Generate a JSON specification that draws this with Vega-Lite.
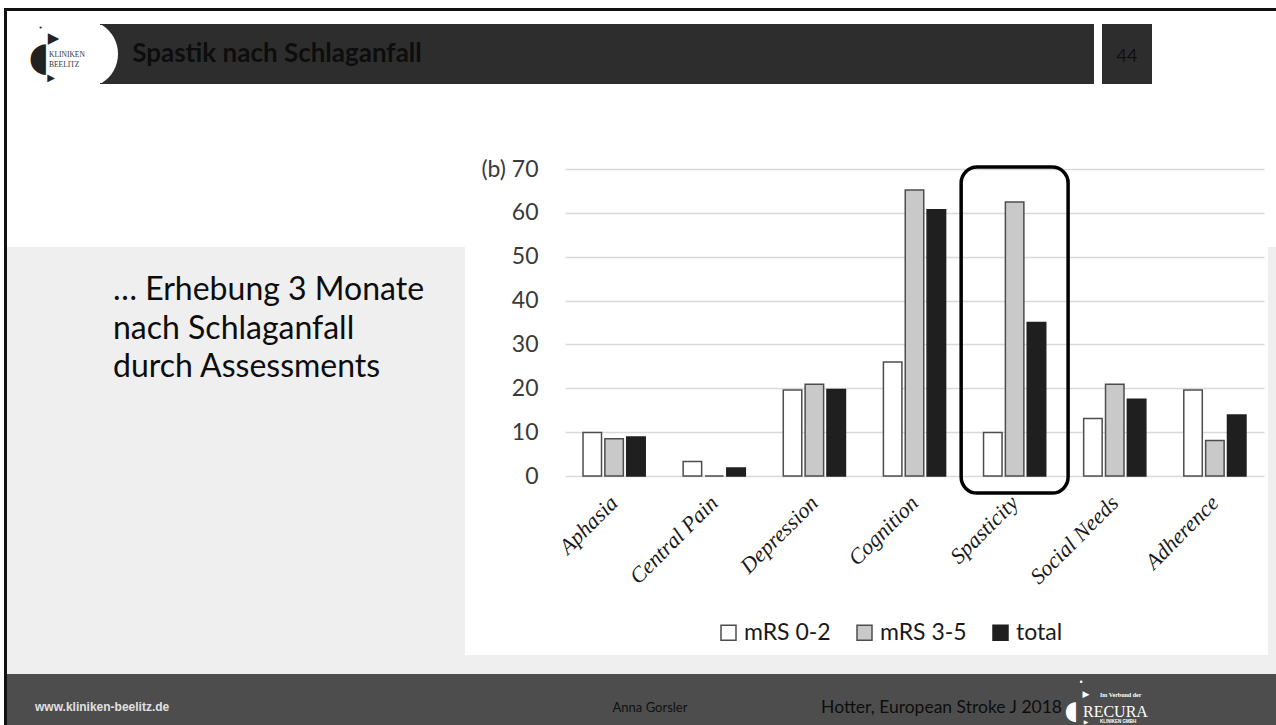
{
  "$schema": "https://vega.github.io/schema/vega-lite/v6.json",
  "background": "#ffffff",
  "padding": {"left": 4, "top": 8, "right": 0, "bottom": 0},
  "config": {"view": {"stroke": null}},
  "datasets": {
    "one": [{}],
    "bars": [
      {"category": "Aphasia", "series": "mRS 0-2", "value": 9.9},
      {"category": "Aphasia", "series": "mRS 3-5", "value": 8.5},
      {"category": "Aphasia", "series": "total", "value": 8.9},
      {"category": "Central Pain", "series": "mRS 0-2", "value": 3.3},
      {"category": "Central Pain", "series": "mRS 3-5", "value": 0},
      {"category": "Central Pain", "series": "total", "value": 1.8},
      {"category": "Depression", "series": "mRS 0-2", "value": 19.6},
      {"category": "Depression", "series": "mRS 3-5", "value": 20.9},
      {"category": "Depression", "series": "total", "value": 19.7},
      {"category": "Cognition", "series": "mRS 0-2", "value": 26.0},
      {"category": "Cognition", "series": "mRS 3-5", "value": 65.2},
      {"category": "Cognition", "series": "total", "value": 60.7},
      {"category": "Spasticity", "series": "mRS 0-2", "value": 9.9},
      {"category": "Spasticity", "series": "mRS 3-5", "value": 62.5},
      {"category": "Spasticity", "series": "total", "value": 35.0},
      {"category": "Social Needs", "series": "mRS 0-2", "value": 13.1},
      {"category": "Social Needs", "series": "mRS 3-5", "value": 20.9},
      {"category": "Social Needs", "series": "total", "value": 17.5},
      {"category": "Adherence", "series": "mRS 0-2", "value": 19.6},
      {"category": "Adherence", "series": "mRS 3-5", "value": 8.1},
      {"category": "Adherence", "series": "total", "value": 13.9}
    ],
    "highlight": [{"category": "Spasticity"}]
  },
  "spacing": 0,
  "hconcat": [
    {"width": 3, "height": 717, "data": {"name": "one"}, "view": {"fill": "#111111"}, "mark": {"type": "text", "text": "", "fontSize": 1, "baseline": "top", "align": "left"}},
    {
      "spacing": 0,
      "vconcat": [
        {"width": 1269, "height": 3, "data": {"name": "one"}, "view": {"fill": "#111111"}, "mark": {"type": "text", "text": "", "fontSize": 1, "baseline": "top", "align": "left"}},
        {"width": 1269, "height": 13, "data": {"name": "one"}, "mark": {"type": "text", "text": "", "fontSize": 1, "baseline": "top", "align": "left"}},
        {
          "spacing": 0,
          "bounds": "flush",
          "hconcat": [
            {
              "width": 93, "height": 60, "data": {"name": "one"},
              "layer": [
                {"mark": {"type": "text", "text": "•", "font": "DejaVu Sans", "fontSize": 7, "fill": "#222222", "align": "center", "baseline": "middle", "dx": -13, "dy": -26}},
                {"mark": {"type": "text", "text": "▶", "font": "DejaVu Sans", "fontSize": 15, "fill": "#222222", "align": "center", "baseline": "middle", "dx": 0, "dy": -16}},
                {"mark": {"type": "text", "text": "◖", "font": "DejaVu Sans", "fontSize": 40, "fill": "#222222", "align": "center", "baseline": "middle", "dx": -14.5, "dy": 4}},
                {"mark": {"type": "text", "text": "▶", "font": "DejaVu Sans", "fontSize": 10, "fill": "#222222", "align": "center", "baseline": "middle", "dx": -2.5, "dy": 24}},
                {"mark": {"type": "text", "text": "KLINIKEN", "font": "Liberation Serif", "fontSize": 7.5, "fill": "#333333", "align": "left", "baseline": "middle", "dx": -4.5, "dy": 1}},
                {"mark": {"type": "text", "text": "BEELITZ", "font": "Liberation Serif", "fontSize": 7.5, "fill": "#333333", "align": "left", "baseline": "middle", "dx": -4.5, "dy": 11}}
              ]
            },
            {
              "width": 354, "height": 60, "data": {"name": "one"}, "view": {"fill": "#2d2d2d"},
              "layer": [
                {"mark": {"type": "point", "shape": "M -5.206 -0.85 L -5.149 -0.85 A 1 1 0 0 1 -5.149 0.85 L -5.206 0.85 Z", "size": 4624, "filled": true, "fill": "#ffffff", "opacity": 1, "strokeWidth": 0}},
                {"mark": {"type": "text", "text": "Spastik nach Schlaganfall", "font": "Lato", "fontWeight": "bold", "fontSize": 26, "fill": "#0d0d0d", "align": "center", "baseline": "alphabetic", "dy": 8}}
              ]
            },
            {"width": 640, "height": 60, "data": {"name": "one"}, "view": {"fill": "#2d2d2d"}, "mark": {"type": "text", "text": "", "fontSize": 1, "baseline": "top", "align": "left"}},
            {"width": 8, "height": 60, "data": {"name": "one"}, "mark": {"type": "text", "text": "", "fontSize": 1, "baseline": "top", "align": "left"}},
            {"width": 50, "height": 60, "data": {"name": "one"}, "view": {"fill": "#2d2d2d"}, "mark": {"type": "text", "text": "44", "font": "Lato", "fontSize": 18, "fill": "#111111", "align": "center", "baseline": "alphabetic", "dy": 8}},
            {"width": 124, "height": 60, "data": {"name": "one"}, "mark": {"type": "text", "text": "", "fontSize": 1, "baseline": "top", "align": "left"}}
          ]
        },
        {
          "spacing": 0,
          "hconcat": [
            {
              "spacing": 0,
              "bounds": "flush",
              "vconcat": [
                {"width": 458, "height": 163, "data": {"name": "one"}, "mark": {"type": "text", "text": "", "fontSize": 1, "baseline": "top", "align": "left"}},
                {"width": 458, "height": 427, "data": {"name": "one"}, "view": {"fill": "#efefef"},
                 "mark": {"type": "text", "text": ["… Erhebung 3 Monate", "nach Schlaganfall", "durch Assessments"], "font": "Lato", "fontSize": 32, "lineHeight": 38.5, "fill": "#0d0d0d", "align": "left", "baseline": "alphabetic", "dx": -123, "dy": -160.5}}
              ]
            },
            {
              "spacing": 0,
              "vconcat": [
                {"width": 803, "height": 74, "data": {"name": "one"}, "mark": {"type": "text", "text": "", "fontSize": 1, "baseline": "top", "align": "left"}},
                {
                  "spacing": 0,
                  "bounds": "flush",
                  "hconcat": [
                    {"width": 100, "height": 307, "data": {"name": "one"}, "mark": {"type": "text", "text": "", "fontSize": 1, "baseline": "top", "align": "left"}},
                    {
                      "width": 699,
                      "height": 307,
                      "encoding": {
                        "x": {
                          "field": "category", "type": "nominal",
                          "sort": ["Aphasia", "Central Pain", "Depression", "Cognition", "Spasticity", "Social Needs", "Adherence"],
                          "scale": {"paddingInner": 0.379, "paddingOuter": 0.18},
                          "axis": {"title": null, "labelAngle": -45, "labelAlign": "right", "labelBaseline": "middle", "labelFont": "Liberation Serif", "labelFontStyle": "italic", "labelFontSize": 22, "labelColor": "#1a1a1a", "ticks": false, "tickSize": 0, "domain": false, "grid": false, "labelPadding": 23}
                        }
                      },
                      "layer": [
                        {
                          "data": {"name": "bars"},
                          "mark": {"type": "bar", "strokeWidth": 1.5},
                          "encoding": {
                            "xOffset": {"field": "series", "type": "nominal", "sort": ["mRS 0-2", "mRS 3-5", "total"], "scale": {"paddingInner": 0.153}},
                            "y": {
                              "field": "value", "type": "quantitative",
                              "scale": {"domain": [0, 70], "nice": false},
                              "axis": {"title": null, "values": [0, 10, 20, 30, 40, 50, 60, 70], "grid": true, "gridColor": "#d9d9d9", "gridWidth": 1.5, "domain": false, "ticks": false, "tickSize": 0, "labelPadding": 27, "labelFont": "Lato", "labelFontSize": 23, "labelColor": "#3a3a3a", "labelExpr": "datum.value === 70 ? '(b) 70' : datum.label"}
                            },
                            "fill": {
                              "field": "series", "type": "nominal",
                              "scale": {"domain": ["mRS 0-2", "mRS 3-5", "total"], "range": ["#ffffff", "#c9c9c9", "#1f1f1f"]},
                              "legend": {"orient": "none", "legendX": 713, "legendY": 613, "direction": "horizontal", "title": null, "symbolType": "square", "symbolSize": 225, "symbolStrokeWidth": 1.5, "symbolStrokeColor": "#444444", "labelFont": "Lato", "labelFontSize": 23, "labelColor": "#1a1a1a", "labelOffset": 4, "columnPadding": 22, "padding": 0,
                                "encode": {"symbols": {"update": {"stroke": {"value": "#444444"}, "strokeWidth": {"value": 1.5}}}}}
                            },
                            "stroke": {
                              "field": "series", "type": "nominal",
                              "scale": {"domain": ["mRS 0-2", "mRS 3-5", "total"], "range": ["#4d4d4d", "#4d4d4d", "#1f1f1f"]},
                              "legend": null
                            }
                          }
                        },
                        {
                          "data": {"name": "highlight"},
                          "mark": {"type": "bar", "fill": "transparent", "stroke": "#000000", "strokeWidth": 3.5, "cornerRadius": 16, "width": {"band": 1.72}},
                          "encoding": {
                            "y": {"datum": 70.45, "type": "quantitative"},
                            "y2": {"datum": -3.9}
                          }
                        }
                      ]
                    },
                    {"width": 4, "height": 307, "data": {"name": "one"}, "mark": {"type": "text", "text": "", "fontSize": 1, "baseline": "top", "align": "left"}}
                  ]
                },
                {"width": 803, "height": 67, "data": {"name": "one"}, "mark": {"type": "text", "text": "", "fontSize": 1, "baseline": "top", "align": "left"}},
                {"width": 803, "height": 19, "data": {"name": "one"}, "view": {"fill": "#efefef"}, "mark": {"type": "text", "text": "", "fontSize": 1, "baseline": "top", "align": "left"}}
              ]
            },
            {
              "spacing": 0,
              "bounds": "flush",
              "vconcat": [
                {"width": 8, "height": 163, "data": {"name": "one"}, "mark": {"type": "text", "text": "", "fontSize": 1, "baseline": "top", "align": "left"}},
                {"width": 8, "height": 427, "data": {"name": "one"}, "view": {"fill": "#efefef"}, "mark": {"type": "text", "text": "", "fontSize": 1, "baseline": "top", "align": "left"}}
              ]
            }
          ]
        },
        {
          "width": 1269, "height": 51, "data": {"name": "one"}, "view": {"fill": "#4d4d4d"},
          "layer": [
            {"mark": {"type": "text", "text": "www.kliniken-beelitz.de", "font": "Liberation Sans", "fontWeight": "bold", "fontSize": 12, "fill": "#e0e0e0", "align": "left", "baseline": "alphabetic", "dx": -606.5, "dy": 11.5}},
            {"mark": {"type": "text", "text": "Anna Gorsler", "font": "Lato", "fontSize": 13, "fill": "#111111", "align": "center", "baseline": "alphabetic", "dx": 8.5, "dy": 12.5}},
            {"mark": {"type": "text", "text": "Hotter, European Stroke J 2018", "font": "Lato", "fontSize": 17.5, "fill": "#0d0d0d", "align": "right", "baseline": "alphabetic", "dx": 420.5, "dy": 13.5}},
            {"mark": {"type": "text", "text": "◖", "font": "DejaVu Sans", "fontSize": 26, "fill": "#ffffff", "align": "center", "baseline": "middle", "dx": 430, "dy": 11.5}},
            {"mark": {"type": "text", "text": "RECURA", "font": "Liberation Serif", "fontSize": 16, "fill": "#ffffff", "align": "left", "baseline": "alphabetic", "dx": 441.5, "dy": 17.5}},
            {"mark": {"type": "text", "text": "Im Verbund der", "font": "Liberation Serif", "fontWeight": "bold", "fontSize": 6, "fill": "#ffffff", "align": "left", "baseline": "alphabetic", "dx": 458.5, "dy": -3}},
            {"mark": {"type": "text", "text": "KLINIKEN  GMBH", "font": "Liberation Sans", "fontWeight": "bold", "fontSize": 4.5, "fill": "#ffffff", "align": "left", "baseline": "alphabetic", "dx": 458.5, "dy": 23}},
            {"mark": {"type": "text", "text": "▶", "font": "DejaVu Sans", "fontSize": 9, "fill": "#ffffff", "align": "center", "baseline": "middle", "dx": 444.5, "dy": -5.5}},
            {"mark": {"type": "text", "text": "▶", "font": "DejaVu Sans", "fontSize": 6, "fill": "#ffffff", "align": "center", "baseline": "middle", "dx": 444.5, "dy": 22}},
            {"mark": {"type": "text", "text": "•", "font": "DejaVu Sans", "fontSize": 8, "fill": "#ffffff", "align": "center", "baseline": "middle", "dx": 439.5, "dy": -16.5}}
          ]
        }
      ]
    }
  ]
}
